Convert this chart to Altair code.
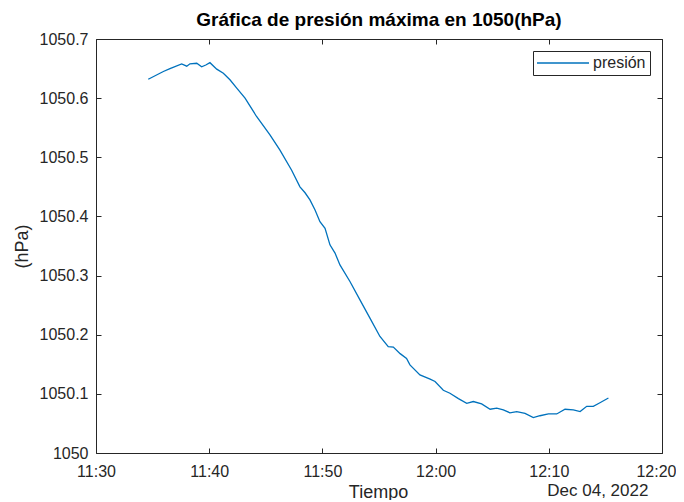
import altair as alt
import pandas as pd

# Data (Dec 04, 2022)
times = ["11:34:37", "11:35:57", "11:36:32", "11:37:34", "11:38:01", "11:38:18",
         "11:38:54", "11:39:20", "11:39:42", "11:40:04", "11:40:40", "11:41:15",
         "11:41:50", "11:42:26", "11:43:10", "11:44:11", "11:45:22", "11:46:15",
         "11:47:17", "11:48:01", "11:48:28", "11:48:54", "11:49:21", "11:49:47",
         "11:50:14", "11:50:40", "11:51:07", "11:51:33", "11:52:26", "11:53:19",
         "11:54:12", "11:55:05", "11:55:49", "11:56:16", "11:56:52", "11:57:26",
         "11:57:44", "11:58:37", "11:59:31", "11:59:57", "12:00:41", "12:01:16",
         "12:02:01", "12:02:45", "12:03:20", "12:04:04", "12:04:49", "12:05:24",
         "12:05:59", "12:06:34", "12:07:10", "12:07:54", "12:08:38", "12:09:13",
         "12:09:58", "12:10:42", "12:11:26", "12:12:10", "12:12:46", "12:13:21",
         "12:13:56", "12:14:31", "12:15:16"]
presion = [1050.632, 1050.645, 1050.650, 1050.658, 1050.654, 1050.658,
           1050.659, 1050.653, 1050.656, 1050.660, 1050.649, 1050.642,
           1050.631, 1050.617, 1050.600, 1050.569, 1050.538, 1050.512,
           1050.478, 1050.450, 1050.440, 1050.428, 1050.411, 1050.391,
           1050.380, 1050.352, 1050.338, 1050.318, 1050.290, 1050.259,
           1050.228, 1050.197, 1050.180, 1050.179, 1050.168, 1050.160,
           1050.149, 1050.132, 1050.125, 1050.121, 1050.106, 1050.101,
           1050.092, 1050.084, 1050.087, 1050.083, 1050.074, 1050.076,
           1050.073, 1050.068, 1050.070, 1050.067, 1050.060, 1050.063,
           1050.066, 1050.066, 1050.074, 1050.073, 1050.070, 1050.079,
           1050.079, 1050.085, 1050.093]
x_ticks = ["11:30", "11:40", "11:50", "12:00", "12:10", "12:20"]
y_ticks = [1050, 1050.1, 1050.2, 1050.3, 1050.4, 1050.5, 1050.6, 1050.7]
serie = "presión"
fecha = "Dec 04, 2022"
fecha_pos = "12:14:20"

DAY = "2022-12-04T"
df = pd.DataFrame({"t": [DAY + s for s in times], "v": presion, "serie": serie})
df_fecha = pd.DataFrame({"t": [DAY + fecha_pos], "label": [fecha]})


def dt(hm):
    h, m = hm.split(":")
    return alt.DateTime(year=2022, month=12, date=4, hours=int(h), minutes=int(m))


x_vals = [dt(s) for s in x_ticks]
xscale = alt.Scale(domain=[x_vals[0], x_vals[-1]], nice=False)
yscale = alt.Scale(domain=[y_ticks[0], y_ticks[-1]], nice=False, zero=False)

W, H = 566, 414
FONT = "Liberation Sans"
INK = "#262626"
BLUE = "#0072BD"

main_x = alt.Axis(values=x_vals[:-1], format="%H:%M", orient="bottom", ticks=False,
                  domain=False, grid=False, labelPadding=10, labelFontSize=16,
                  labelFlush=False,
                  labelColor=INK, labelFont=FONT, title="Tiempo", titleFont=FONT,
                  titleFontSize=18, titleFontWeight="normal", titleColor=INK,
                  titleX=W / 2 - 1, titleY=39, titleBaseline="middle",
                  titleAlign="center")
# last x label kept inside the page edge
last_x = alt.Axis(values=x_vals[-1:], format="%H:%M", orient="bottom", ticks=False,
                  domain=False, grid=False, labelPadding=10, labelFontSize=16,
                  labelFlush=True, labelFlushOffset=14,
                  labelColor=INK, labelFont=FONT, title="")
main_y = alt.Axis(values=y_ticks, format="~f", orient="left", ticks=False,
                  domain=False, grid=False, labelPadding=8, labelFontSize=16,
                  labelFlush=False,
                  labelColor=INK, labelFont=FONT, title="(hPa)", titleFont=FONT,
                  titleFontSize=18, titleFontWeight="normal", titleColor=INK,
                  titleX=-74, titleY=H / 2, titleAngle=270,
                  titleBaseline="middle", titleAlign="center")


def tick_axis(vals, orient, offset):
    return alt.Axis(values=vals, orient=orient, offset=offset, labels=False,
                    domain=False, grid=False, ticks=True, tickSize=5,
                    tickColor=INK, tickWidth=1, title="")


line = alt.Chart(df).mark_line(strokeWidth=1.3, color=BLUE).encode(
    x=alt.X("t:T", scale=xscale, axis=main_x),
    y=alt.Y("v:Q", scale=yscale, axis=main_y),
    color=alt.Color("serie:N", scale=alt.Scale(domain=[serie], range=[BLUE]),
                    legend=alt.Legend(orient="none", legendX=437, legendY=12,
                                      title=None, symbolType="M-1.6,0H8.8",
                                      symbolSize=100, symbolStrokeWidth=1.3,
                                      labelFont=FONT, labelFontSize=16,
                                      labelColor=INK, padding=4,
                                      strokeColor=INK, fillColor="white",
                                      labelOffset=40)),
)

ticks_a = alt.Chart(df).mark_line(opacity=0).encode(
    x=alt.X("t:T", scale=xscale, axis=tick_axis(x_vals, "top", -H)),
    y=alt.Y("v:Q", scale=yscale, axis=tick_axis(y_ticks, "right", -W)),
)
ticks_b = alt.Chart(df).mark_line(opacity=0).encode(
    x=alt.X("t:T", scale=xscale, axis=tick_axis(x_vals, "bottom", -H)),
    y=alt.Y("v:Q", scale=yscale, axis=tick_axis(y_ticks, "left", -W)),
)

fecha_txt = alt.Chart(df_fecha).mark_text(font=FONT, fontSize=17, color=INK,
                                          baseline="middle").encode(
    x=alt.X("t:T", scale=xscale, axis=last_x),
    y=alt.value(452),
    text="label:N",
)

chart = alt.layer(line, ticks_a, ticks_b, fecha_txt).resolve_axis(
    x="independent", y="independent"
).properties(
    width=W, height=H,
    title=alt.TitleParams("Gráfica de presión máxima en 1050(hPa)", font=FONT,
                          fontSize=19, fontWeight="bold", color="black",
                          anchor="middle", offset=1),
    autosize=alt.AutoSizeParams(type="none"),
    padding={"left": 88, "top": 31, "right": 14, "bottom": 47},
    background="white",
).configure_view(stroke=INK, strokeWidth=1)

chart.save("out.html", embed_options={"renderer": "svg", "actions": False})
